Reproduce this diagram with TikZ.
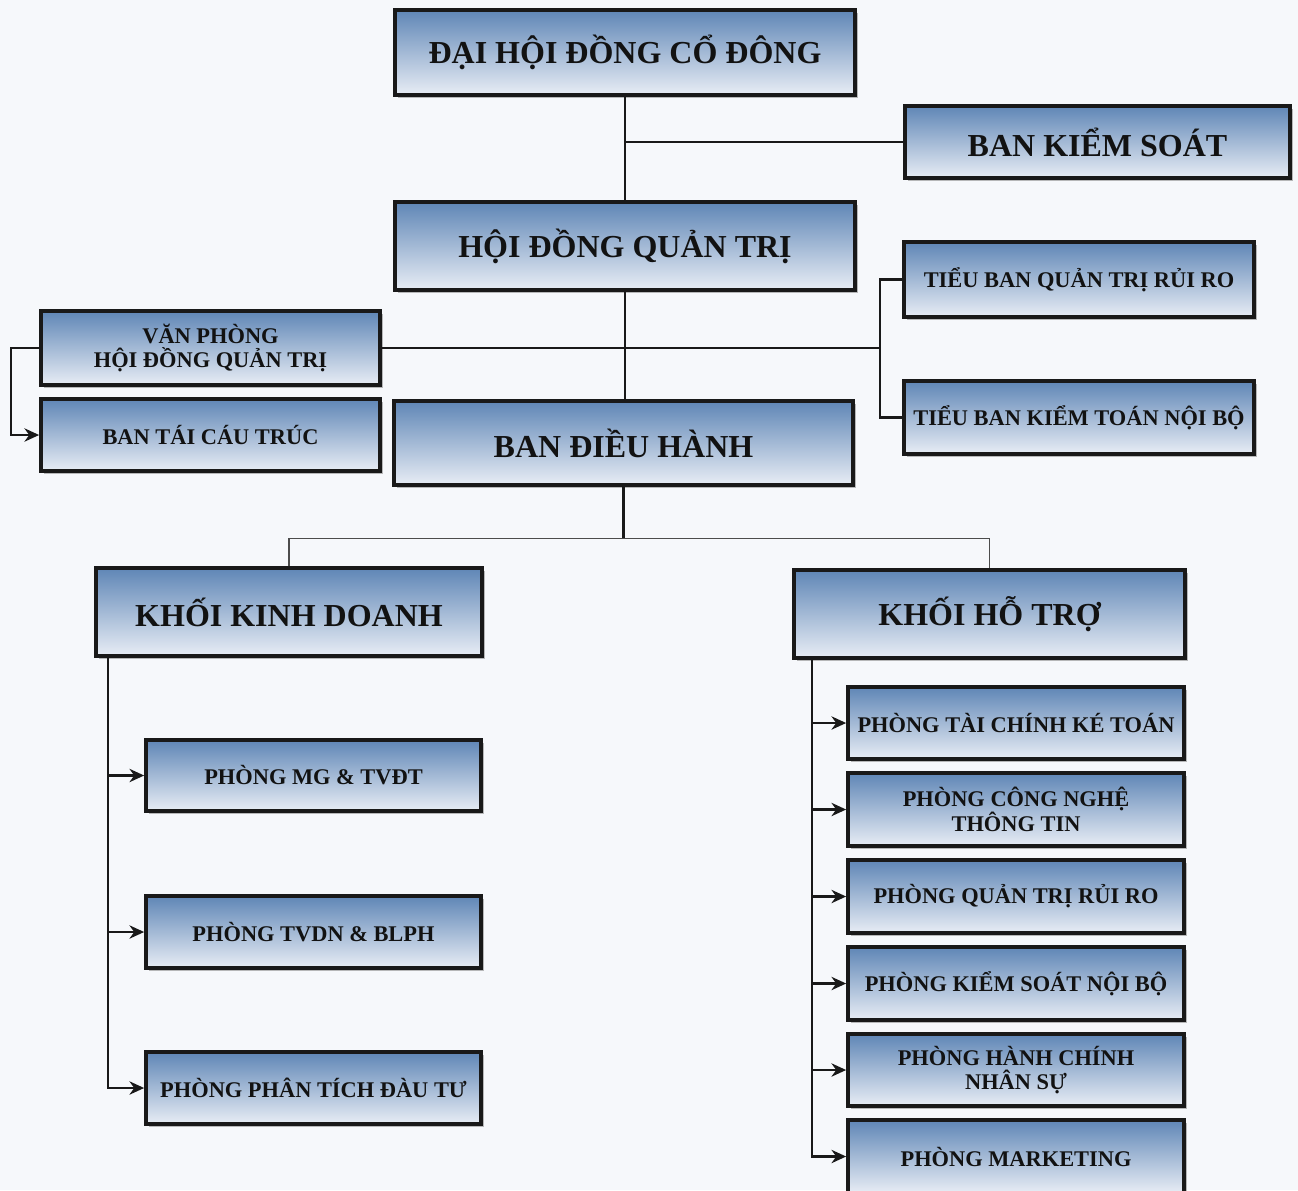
\documentclass[tikz,border=0pt]{standalone}
\usepackage{fontspec}
\setmainfont{Liberation Serif}
\usetikzlibrary{arrows.meta,shadows}
\definecolor{boxtop}{HTML}{5F86B6}
\definecolor{boxbot}{HTML}{E8EDF5}
\definecolor{txt}{HTML}{121212}
\definecolor{bg}{HTML}{F6F8FB}
\newcommand\obox[7]{\node[obx,font=#7,minimum width={(#4-#2)*0.75pt},minimum height={(#5-#3)*0.75pt}] (#1) at ({(#2+#4)/2*0.75pt},{-(#3+#5)/2*0.75pt}) {#6};}
\tikzset{
  obx/.style={draw=black!90,line width=2.8pt,top color=boxtop,bottom color=boxbot,
    text=txt,align=center,inner sep=0pt,
    drop shadow={shadow xshift=2.5pt,shadow yshift=-2.5pt,fill=black!45,opacity=0.6}},
  conn/.style={line width=1.8pt,draw=black!90},
  arr/.style={conn,-{Stealth[length=11pt,width=10pt]}},
}
\begin{document}
\begin{tikzpicture}[x=0.75pt,y=-0.75pt]
\fill[bg] (0,0) rectangle (1298,1190);
\useasboundingbox (0,0) rectangle (1298,1190);
% boxes
\obox{dh}{395}{10}{855}{95}{ĐẠI HỘI ĐỒNG CỔ ĐÔNG}{\bfseries\fontsize{24}{28}\selectfont}
\obox{bks}{905}{106}{1290}{178}{BAN KIỂM SOÁT}{\bfseries\fontsize{24}{28}\selectfont}
\obox{hd}{395}{202}{855}{290}{HỘI ĐỒNG QUẢN TRỊ}{\bfseries\fontsize{24}{28}\selectfont}
\obox{qtrr}{904}{242}{1254}{317}{TIỂU BAN QUẢN TRỊ RỦI RO}{\bfseries\fontsize{16.8}{20}\selectfont}
\obox{ktnb}{904}{381}{1254}{454}{TIỂU BAN KIỂM TOÁN NỘI BỘ}{\bfseries\fontsize{16.8}{20}\selectfont}
\obox{vp}{41}{311}{380}{385}{VĂN PHÒNG\\HỘI ĐỒNG QUẢN TRỊ}{\bfseries\fontsize{16.8}{18.5}\selectfont}
\obox{btct}{41}{399}{380}{471}{BAN TÁI CÁU TRÚC}{\bfseries\fontsize{16.8}{20}\selectfont}
\obox{bdh}{394}{401}{853}{485}{BAN ĐIỀU HÀNH}{\bfseries\fontsize{24}{28}\selectfont}
\obox{kkd}{96}{568}{482}{656}{KHỐI KINH DOANH}{\bfseries\fontsize{24}{28}\selectfont}
\obox{kht}{794}{570}{1185}{658}{KHỐI HỖ TRỢ}{\bfseries\fontsize{24}{28}\selectfont}
\obox{p1}{146}{740}{481}{811}{PHÒNG MG \& TVĐT}{\bfseries\fontsize{16.8}{20}\selectfont}
\obox{p2}{146}{896}{481}{968}{PHÒNG TVDN \& BLPH}{\bfseries\fontsize{16.8}{20}\selectfont}
\obox{p3}{146}{1052}{481}{1124}{PHÒNG PHÂN TÍCH ĐÀU TƯ}{\bfseries\fontsize{16.8}{20}\selectfont}
\obox{r1}{848}{687}{1184}{759}{PHÒNG TÀI CHÍNH KÉ TOÁN}{\bfseries\fontsize{16.8}{20}\selectfont}
\obox{r2}{848}{773}{1184}{846}{PHÒNG CÔNG NGHỆ\\THÔNG TIN}{\bfseries\fontsize{16.8}{18.5}\selectfont}
\obox{r3}{848}{860}{1184}{933}{PHÒNG QUẢN TRỊ RỦI RO}{\bfseries\fontsize{16.8}{20}\selectfont}
\obox{r4}{848}{947}{1184}{1020}{PHÒNG KIỂM SOÁT NỘI BỘ}{\bfseries\fontsize{16.8}{20}\selectfont}
\obox{r5}{848}{1034}{1184}{1106}{PHÒNG HÀNH CHÍNH\\NHÂN SỰ}{\bfseries\fontsize{16.8}{18.5}\selectfont}
\obox{r6}{848}{1120}{1184}{1193}{PHÒNG MARKETING}{\bfseries\fontsize{16.8}{20}\selectfont}
% junction points
\coordinate (tb) at ([xshift=498*0.75pt]vp.east);
\coordinate (m) at ([yshift=-52*0.75pt]bdh.south);
% connectors
\draw[conn] (dh.south) -- (hd.north);
\draw[conn] (hd.south) -- (hd.south |- bdh.north);
\draw[conn] (bks.west) -- (bks.west -| dh.south);
\draw[conn] (vp.east) -- (tb);
\draw[conn] (qtrr.west) -| (tb) |- (ktnb.west);
\draw[arr] (vp.west) -- ++(-28,0) |- (btct.west);
\draw[conn] (bdh.south) -- (m);
\draw[line width=0.9pt,draw=black!70] (kkd.north) |- (m) -| (kht.north);
\coordinate (lb) at ([xshift=14*0.75pt]kkd.south west);
\draw[arr] (lb) |- (p1.west);
\draw[arr] (lb) |- (p2.west);
\draw[arr] (lb) |- (p3.west);
\coordinate (rb) at ([xshift=20*0.75pt]kht.south west);
\draw[arr] (rb) |- (r1.west);
\draw[arr] (rb) |- (r2.west);
\draw[arr] (rb) |- (r3.west);
\draw[arr] (rb) |- (r4.west);
\draw[arr] (rb) |- (r5.west);
\draw[arr] (rb) |- (r6.west);
\end{tikzpicture}
\end{document}
